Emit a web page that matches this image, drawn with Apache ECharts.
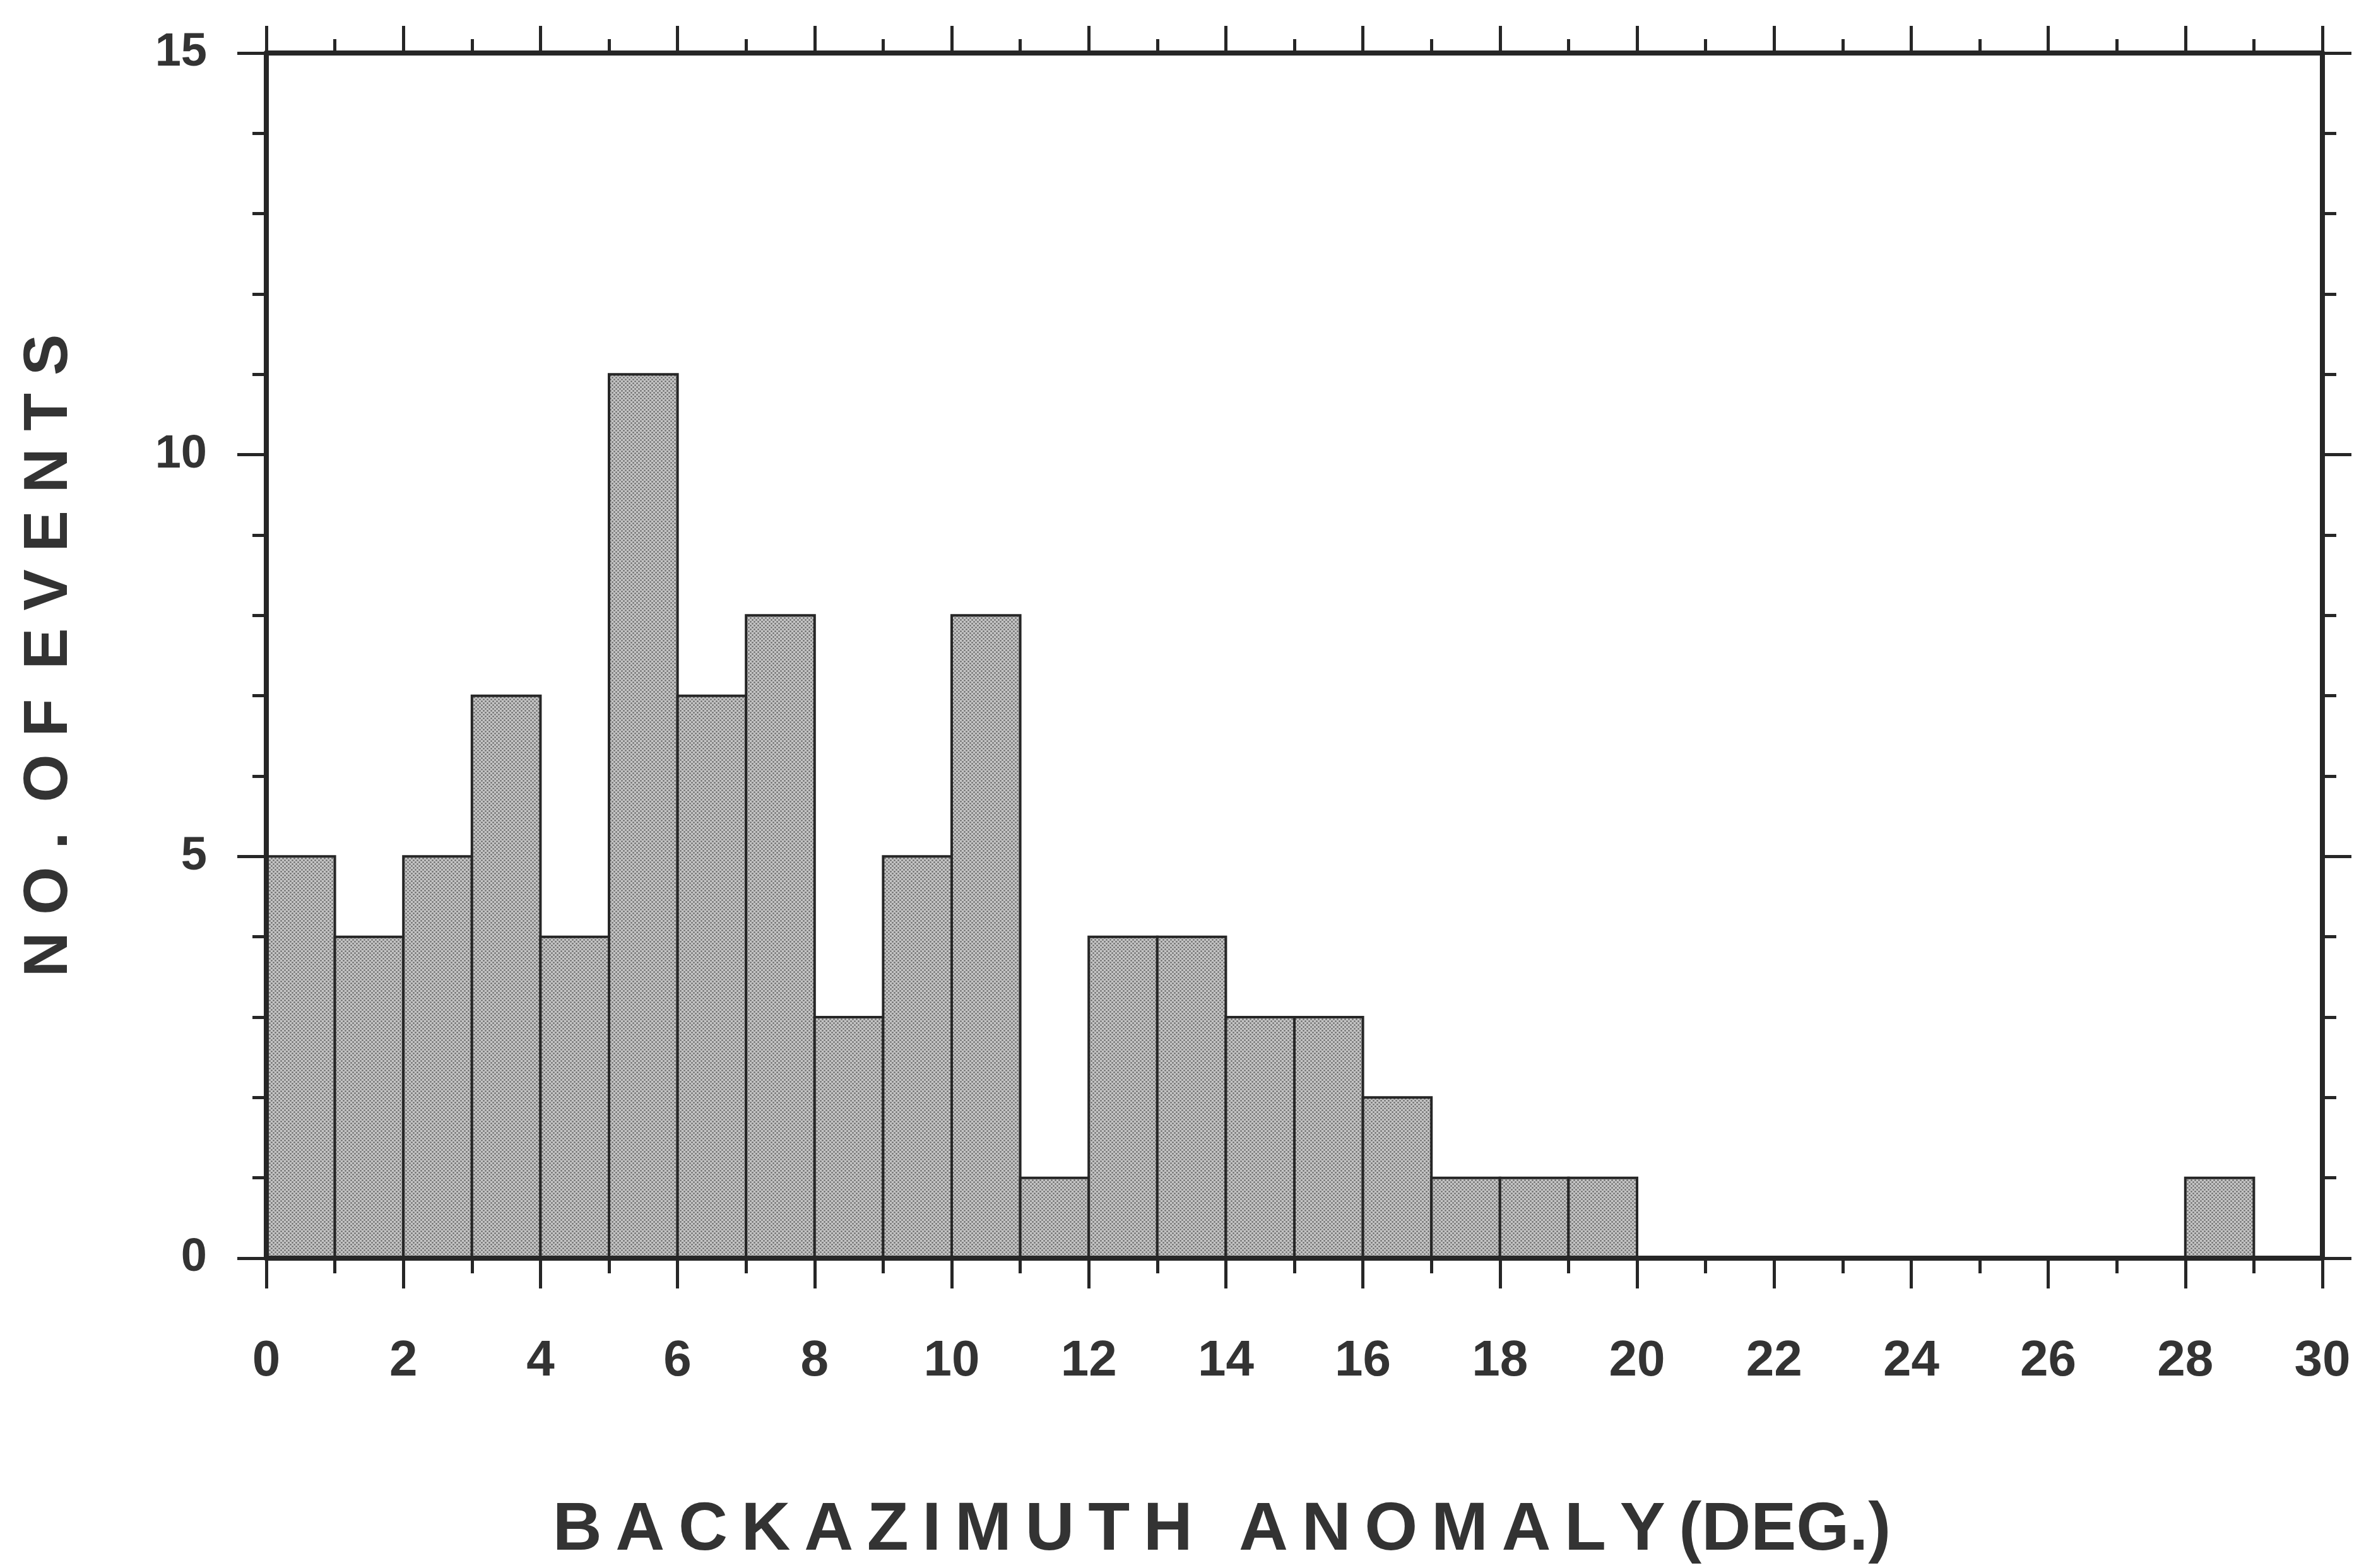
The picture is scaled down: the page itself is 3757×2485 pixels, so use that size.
<!DOCTYPE html>
<html><head><meta charset="utf-8">
<script src="https://cdn.jsdelivr.net/npm/echarts@6/dist/echarts.min.js"></script>
<style>html,body{margin:0;padding:0;background:#fff}#c{width:3757px;height:2485px}</style>
</head><body><div id="c"></div>
<script>
// ---- data ----
const binStarts = [0,1,2,3,4,5,6,7,8,9,10,11,12,13,14,15,16,17,18,19,20,21,22,23,24,25,26,27,28,29];
const binWidth = 1;
const counts    = [5,4,5,7,4,11,7,8,3,5,8,1,4,4,3,3,2,1,1,1,0,0,0,0,0,0,0,0,1,0];
const xRange = [0, 30];   // degrees
const xStep = 2;
const yRange = [0, 15];   // events
const yStep = 5;
const xTitleWords = ['BACKAZIMUTH', 'ANOMALY'];
const xTitleUnit = '(DEG.)';
const yTitleWords = ['NO.', 'OF', 'EVENTS'];

// ---- helpers ----
const spaced = w => w.split('').join('\u2009');
const spacedWide = w => w.split('').join('\u2009\u200A');
const xTitle = xTitleWords.map(spaced).join(' \u2009\u2009') + '\u2009' + xTitleUnit;
const yTitle = yTitleWords.map(spacedWide).join(' \u2009');

// halftone fill pattern
const pc = document.createElement('canvas');
pc.width = 6; pc.height = 6;
const g = pc.getContext('2d');
g.fillStyle = '#c4c4c4'; g.fillRect(0, 0, 6, 6);
g.fillStyle = '#666666';
g.beginPath(); g.arc(1.5, 1.5, 1.3, 0, Math.PI * 2); g.fill();
g.beginPath(); g.arc(4.5, 4.5, 1.3, 0, Math.PI * 2); g.fill();
const fillPattern = { image: pc, repeat: 'repeat' };

const ink = '#262626';
const txt = '#333333';
const font = '"Liberation Sans", Arial, Helvetica, sans-serif';

const data = binStarts.map((s, i) => [s, s + binWidth, counts[i]]);

function axisCommon(extra) {
  return Object.assign({
    type: 'value',
    z: 10,
    splitLine: { show: false },
    axisLine: { show: true, onZero: false, lineStyle: { color: ink, width: 8 } },
    axisTick: { show: true, inside: false, lineStyle: { color: ink, width: 5 } },
    minorTick: { show: true, lineStyle: { color: ink, width: 5 } },
    minorSplitLine: { show: false }
  }, extra);
}

const chart = echarts.init(document.getElementById('c'), null, { renderer: 'canvas' });
chart.setOption({
  backgroundColor: '#ffffff',
  animation: false,
  grid: { left: 422, right: 77, top: 84, bottom: 484, containLabel: false },
  xAxis: [
    axisCommon({
      position: 'bottom', min: xRange[0], max: xRange[1], interval: xStep,
      axisTick: { show: true, inside: false, length: 48, lineStyle: { color: ink, width: 5 } },
      minorTick: { show: true, splitNumber: 2, length: 24, lineStyle: { color: ink, width: 5 } },
      axisLabel: { show: true, margin: 124, color: txt, fontSize: 80, fontWeight: 'bold', fontFamily: font },
      name: xTitle, nameLocation: 'middle', nameGap: 378,
      nameTextStyle: { color: txt, fontSize: 108, fontWeight: 'bold', fontFamily: font, padding: [0, 230, 0, 0] }
    }),
    axisCommon({
      position: 'top', min: xRange[0], max: xRange[1], interval: xStep,
      axisTick: { show: true, inside: false, length: 43, lineStyle: { color: ink, width: 5 } },
      minorTick: { show: true, splitNumber: 2, length: 22, lineStyle: { color: ink, width: 5 } },
      axisLabel: { show: false }
    })
  ],
  yAxis: [
    axisCommon({
      position: 'left', min: yRange[0], max: yRange[1], interval: yStep,
      axisTick: { show: true, inside: false, length: 46, lineStyle: { color: ink, width: 5 } },
      minorTick: { show: true, splitNumber: 5, length: 22, lineStyle: { color: ink, width: 5 } },
      axisLabel: { show: true, margin: 94, color: txt, fontSize: 74, fontWeight: 'bold', fontFamily: font,
                   padding: [34, 0, 0, 0] },
      name: yTitle, nameLocation: 'middle', nameGap: 294, nameRotate: 90,
      nameTextStyle: { color: txt, fontSize: 98, fontWeight: 'bold', fontFamily: font }
    }),
    axisCommon({
      position: 'right', min: yRange[0], max: yRange[1], interval: yStep,
      axisTick: { show: true, inside: false, length: 46, lineStyle: { color: ink, width: 5 } },
      minorTick: { show: true, splitNumber: 5, length: 22, lineStyle: { color: ink, width: 5 } },
      axisLabel: { show: false }
    })
  ],
  series: [{
    type: 'custom',
    xAxisIndex: 0, yAxisIndex: 0,
    z: 2,
    data: data,
    encode: { x: [0, 1], y: 2 },
    renderItem: function (params, api) {
      const v = api.value(2);
      if (!v) return null;
      const p0 = api.coord([api.value(0), 0]);
      const p1 = api.coord([api.value(1), v]);
      return {
        type: 'rect',
        shape: { x: p0[0], y: p1[1], width: p1[0] - p0[0], height: p0[1] - p1[1] },
        style: { fill: fillPattern, stroke: ink, lineWidth: 4 }
      };
    }
  }]
});
</script>
</body></html>
